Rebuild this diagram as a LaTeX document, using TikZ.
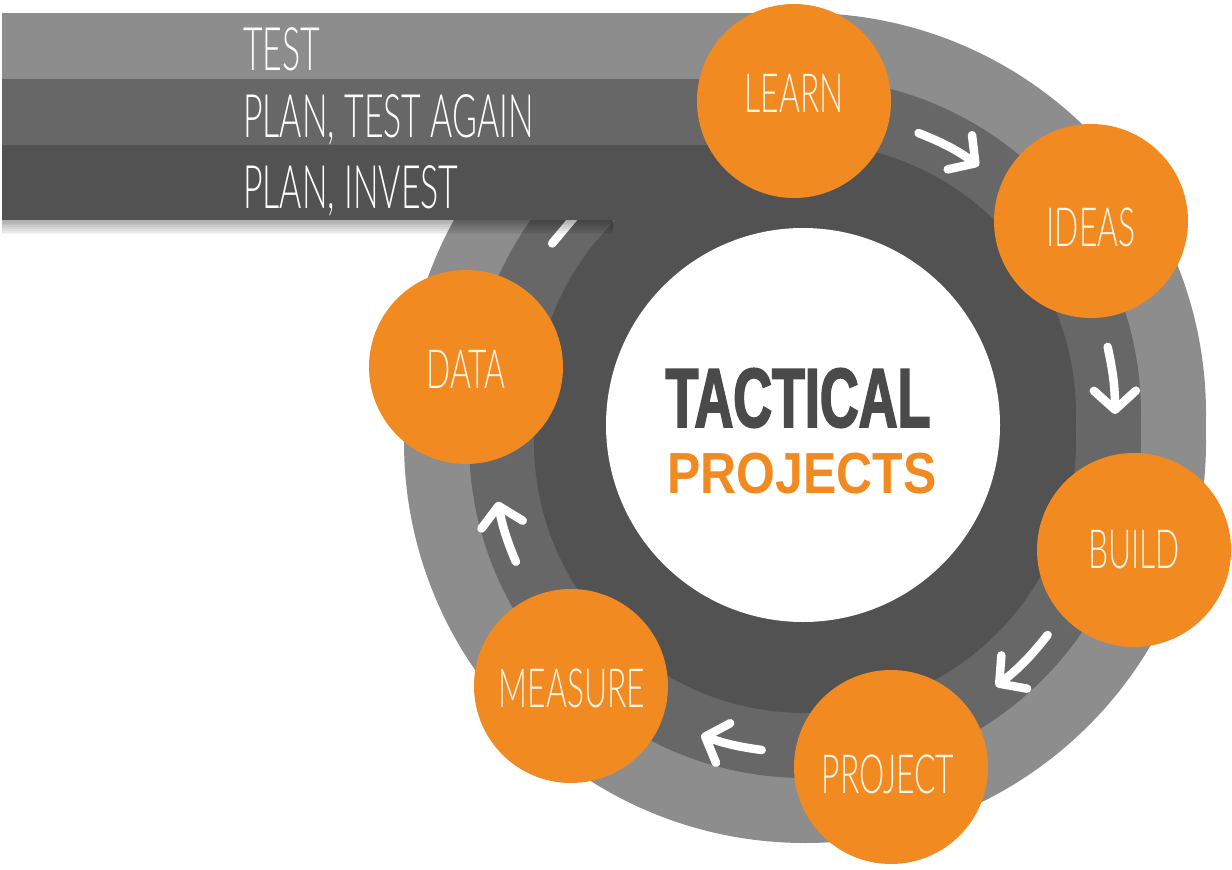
\documentclass[tikz,border=0pt]{standalone}
\usepackage{fontspec}
\setmainfont{Liberation Sans}
\newfontfamily\thinfont{Lato Light}[FakeStretch=0.565]
\newfontfamily\labelfont{Lato Light}[FakeStretch=0.59]
\newfontfamily\boldfont{Liberation Sans}[FakeStretch=0.86]
\newfontfamily\heavyfont{Liberation Sans}[FakeStretch=0.64,FakeBold=2]
\usetikzlibrary{arrows.meta,calc}
\definecolor{ringL}{HTML}{8D8D8D}
\definecolor{ringM}{HTML}{676767}
\definecolor{ringD}{HTML}{525252}
\definecolor{orangeC}{HTML}{F28A22}
\definecolor{labelC}{HTML}{FFF6E8}
\definecolor{tacC}{HTML}{4A4A4A}
\begin{document}
\begin{tikzpicture}[x=1pt,y=-1pt,
  stage/.style={circle, fill=orangeC, minimum size=194pt, inner sep=0pt},
  stagelabel/.style={inner sep=0pt, text=labelC,
    font=\labelfont\fontsize{54}{54}\selectfont},
  flow/.style={draw=white, line width=8.5pt, line cap=round,
    -{Straight Barb[length=19pt,width=42pt,round]}},
  tailmark/.style={draw=white, line width=8.5pt, line cap=round},
  bandtext/.style={anchor=base west, text=white, inner sep=0pt,
    font=\thinfont\fontsize{60}{60}\selectfont}
]
\useasboundingbox (0,0) rectangle (1232,870);
\fill[white] (0,0) rectangle (1232,870);
\coordinate (U) at (805,414);
\coordinate (D) at (805,442);
\coordinate (W) at (803,425);
% rings
\fill[ringL] (U) circle[radius=401pt];
\fill[ringL] (D) circle[radius=401pt];
\fill[ringM] (U) circle[radius=336pt];
\fill[ringM] (D) circle[radius=336pt];
\fill[ringD] (U) circle[radius=271pt];
\fill[ringD] (D) circle[radius=271pt];
\fill[white] (W) circle[radius=197pt];
% arrow end points
\coordinate (a1s) at ($(U)+(-68:303)$);
\coordinate (a1e) at ($(U)+(-55:303)$);
\coordinate (a2s) at ($(U)+(-12.5:310)$);
\coordinate (a2e) at ($(U)+(0:310)$);
\coordinate (a3s) at ($(D)+(38.5:310)$);
\coordinate (a3e) at ($(D)+(52:310)$);
\coordinate (a4s) at ($(D)+(98:311)$);
\coordinate (a4e) at ($(D)+(109.5:311)$);
\coordinate (a5s) at ($(D)+(157.5:313)$);
\coordinate (a5e) at ($(D)+(169:313)$);
\coordinate (a6s) at ($(U)+(214:305)$);
\coordinate (a6e) at ($(U)+(226:305)$);
\draw[flow] (a1s) to[bend left=7] (a1e);
\draw[flow] (a2s) to[bend left=6] (a2e);
\draw[flow] (a3s) to[bend left=7] (a3e);
\draw[flow] (a4s) to[bend left=6] (a4e);
\draw[flow] (a5s) to[bend left=6] (a5e);
\draw[tailmark] (a6s) -- (a6e);
% band
\fill[ringL] (2,13) rectangle (805,79);
\fill[ringM] (2,79) rectangle (805,145);
\fill[ringD] (2,145) rectangle (805,220);
\foreach \i in {1,...,8} \fill[black,opacity=0.045] (2,220) rectangle (613,{220+1.8*\i});
\node[bandtext] (t1) at (243,70) {TEST};
\node[bandtext] (t2) at (243,137) {PLAN, TEST AGAIN};
\node[bandtext] (t3) at (243,208) {PLAN, INVEST};
% centre
\node[font=\heavyfont\bfseries\fontsize{84}{84}\selectfont, text=tacC, inner sep=0pt] (tac) at (798,398) {TACTICAL};
\node[font=\boldfont\bfseries\fontsize{58}{58}\selectfont, text=orangeC, inner sep=0pt] (proj) at (802,474) {PROJECTS};
% stages
\node[stage] (learn) at (794,101) {};
\node[stage] (ideas) at (1091,221) {};
\node[stage] (build) at (1134,550) {};
\node[stage] (project) at (891,767) {};
\node[stage] (measure) at (571,686) {};
\node[stage] (data) at (466,367) {};
\node[stagelabel] (learnt) at ($(learn)+(0,-8)$) {LEARN};
\node[stagelabel] (ideast) at ($(ideas)+(0,6)$) {IDEAS};
\node[stagelabel] (buildt) at ($(build)+(0,0)$) {BUILD};
\node[stagelabel] (projectt) at ($(project)+(-3,7)$) {PROJECT};
\node[stagelabel] (measuret) at ($(measure)+(1,2)$) {MEASURE};
\node[stagelabel] (datat) at ($(data)+(0,2)$) {DATA};
\end{tikzpicture}
\end{document}
